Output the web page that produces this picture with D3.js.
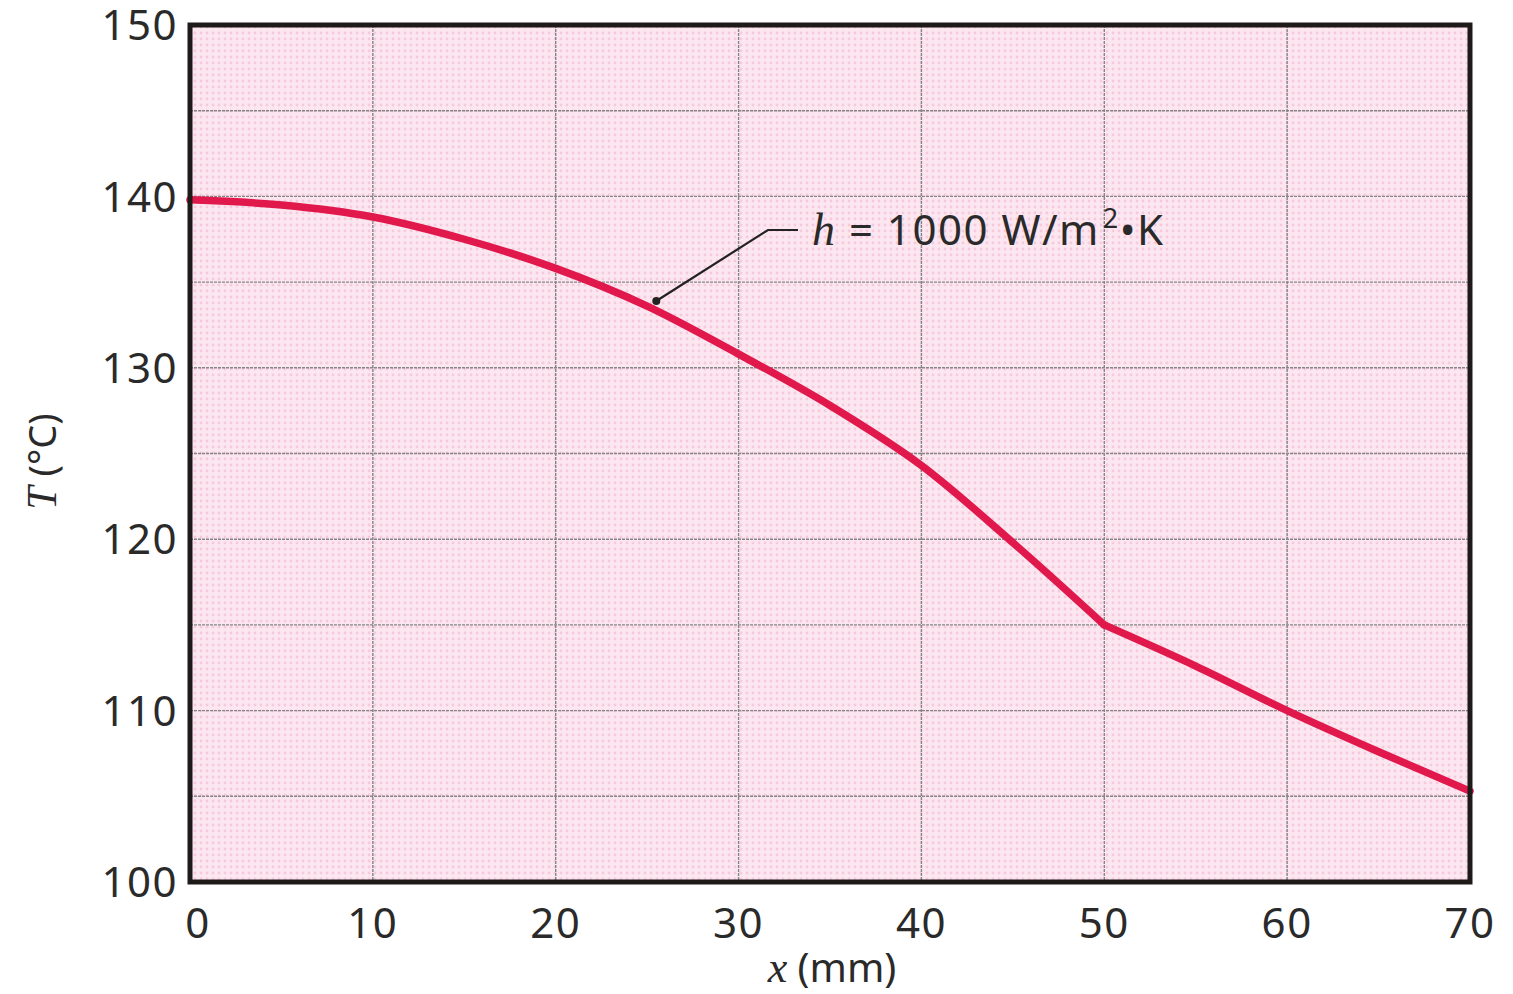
<!DOCTYPE html>
<html>
<head>
<meta charset="UTF-8">
<title>T vs x</title>
<script src="https://cdnjs.cloudflare.com/ajax/libs/d3/7.8.5/d3.min.js"></script>
<style>
  body { margin: 0; background: #fff; }
  text { font-family: "Noto Sans", sans-serif; fill: #2a2a2a; }
</style>
</head>
<body>
<div id="chart"></div>
<script>
// data
var xs = [0, 5, 10, 15, 20, 25, 30, 35, 40, 45, 50, 55, 60, 65, 70];
var temps = [139.8, 139.5, 138.8, 137.5, 135.8, 133.6, 130.8, 127.8, 124.3, 119.8, 115.0, 112.6, 110.0, 107.6, 105.3];
var xTicks = [0, 10, 20, 30, 40, 50, 60, 70];
var yTicks = [100, 110, 120, 130, 140, 150];
var yGrid = [105, 110, 115, 120, 125, 130, 135, 140, 145];
var labelText = "1000 W/m";

var w = 1513, h = 994;
var pLeft = 190, pRight = 1470, pTop = 25, pBottom = 882;

var svg = d3.select("#chart").append("svg")
    .attr("width", w)
    .attr("height", h);

var x = d3.scaleLinear().domain([0, 70]).range([pLeft, pRight]);
var y = d3.scaleLinear().domain([100, 150]).range([pBottom, pTop]);

// pink dotted background
var defs = svg.append("defs");
var pat = defs.append("pattern")
    .attr("id", "dots")
    .attr("width", 6).attr("height", 6)
    .attr("patternUnits", "userSpaceOnUse");
pat.append("rect").attr("width", 6).attr("height", 6).attr("fill", "#fce6f0");
pat.append("circle").attr("cx", 3).attr("cy", 3).attr("r", 1.4).attr("fill", "#f6c9dc");

svg.append("rect")
    .attr("x", pLeft).attr("y", pTop)
    .attr("width", pRight - pLeft).attr("height", pBottom - pTop)
    .attr("fill", "url(#dots)");

// grid
svg.append("g").selectAll("line")
    .data(xTicks.slice(1, -1))
    .join("line")
    .attr("x1", d => x(d)).attr("x2", d => x(d))
    .attr("y1", pTop).attr("y2", pBottom)
    .attr("stroke", "#858585")
    .attr("stroke-width", 1.4)
    .attr("stroke-dasharray", "3,1");

svg.append("g").selectAll("line")
    .data(yGrid)
    .join("line")
    .attr("x1", pLeft).attr("x2", pRight)
    .attr("y1", d => y(d)).attr("y2", d => y(d))
    .attr("stroke", "#858585")
    .attr("stroke-width", 1.4)
    .attr("stroke-dasharray", "3,1");

// curve: smooth up to x = 50, then a second smooth piece
var pts = xs.map((d, i) => [d, temps[i]]);
var line = d3.line()
    .x(d => x(d[0]))
    .y(d => y(d[1]))
    .curve(d3.curveMonotoneX);

[pts.filter(d => d[0] <= 50), pts.filter(d => d[0] >= 50)].forEach(function(seg) {
    svg.append("path")
        .datum(seg)
        .attr("d", line)
        .attr("fill", "none")
        .attr("stroke", "#e0184c")
        .attr("stroke-width", 7.5)
        .attr("stroke-linejoin", "round")
        .attr("stroke-linecap", "round");
});

// frame
svg.append("rect")
    .attr("x", pLeft).attr("y", pTop)
    .attr("width", pRight - pLeft).attr("height", pBottom - pTop)
    .attr("fill", "none")
    .attr("stroke", "#1e1a1a")
    .attr("stroke-width", 5);

// tick labels
svg.append("g").selectAll("text")
    .data(yTicks)
    .join("text")
    .attr("x", pLeft - 12)
    .attr("y", d => y(d))
    .attr("dy", "0.36em")
    .attr("text-anchor", "end")
    .attr("font-size", 42)
    .attr("letter-spacing", 1.5)
    .text(d => d);

svg.append("g").selectAll("text")
    .data(xTicks)
    .join("text")
    .attr("x", d => x(d) + (d === 0 ? 8 : 0))
    .attr("y", pBottom + 56)
    .attr("text-anchor", "middle")
    .attr("font-size", 42)
    .attr("letter-spacing", 1.5)
    .text(d => d);

// axis titles
var xt = svg.append("text")
    .attr("x", (pLeft + pRight) / 2 + 2)
    .attr("y", 982)
    .attr("text-anchor", "middle")
    .attr("font-size", 40);
xt.append("tspan").attr("font-family", "Liberation Serif, serif").attr("font-style", "italic").attr("font-size", 44).text("x");
xt.append("tspan").text(" (mm)");

var yt = svg.append("text")
    .attr("transform", "translate(56," + ((pTop + pBottom) / 2 + 8) + ") rotate(-90)")
    .attr("text-anchor", "middle")
    .attr("font-size", 38);
yt.append("tspan").attr("font-family", "Liberation Serif, serif").attr("font-style", "italic").attr("font-size", 42).text("T");
yt.append("tspan").text(" (°C)");

// annotation with leader
var ax = 25.5, aT = 133.9;
var lx = 770, ly = 230;
svg.append("path")
    .attr("d", "M" + x(ax) + "," + y(aT) + "L" + (lx - 2) + "," + ly + "L" + (lx + 28) + "," + ly)
    .attr("fill", "none")
    .attr("stroke", "#222")
    .attr("stroke-width", 2.2);
svg.append("circle")
    .attr("cx", x(ax)).attr("cy", y(aT))
    .attr("r", 4).attr("fill", "#222");

var ann = svg.append("text")
    .attr("x", lx + 42)
    .attr("y", ly + 15)
    .attr("font-size", 42)
    .attr("letter-spacing", 1.5);
ann.append("tspan").attr("font-family", "Liberation Serif, serif").attr("font-style", "italic").attr("font-size", 46).text("h");
ann.append("tspan").text(" = " + labelText);
ann.append("tspan").attr("font-size", 27).attr("dx", 3).attr("dy", -17).text("2");
ann.append("tspan").attr("dy", 17).text("\u2022K");
</script>
</body>
</html>
